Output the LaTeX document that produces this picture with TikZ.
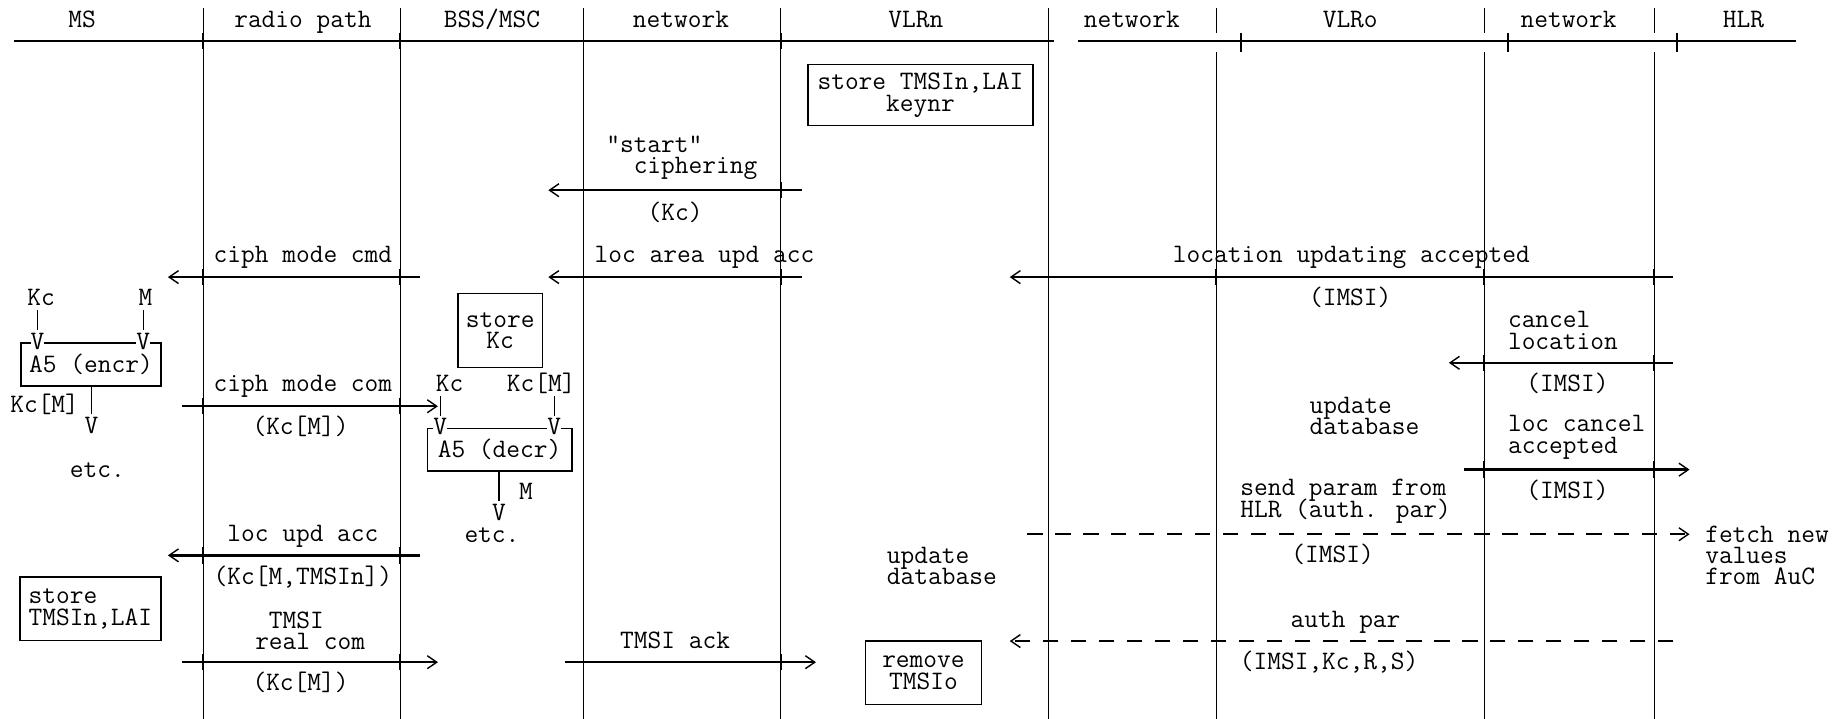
\documentclass[tikz,border=0pt]{standalone}
\usetikzlibrary{arrows.meta}
\setlength{\lineskiplimit}{-20pt}

\tikzset{
  txt/.style={font=\ttfamily\fontsize{11.35}{9.1}\selectfont, inner sep=0pt},
  lbl/.style={txt, text height=8pt, text depth=1.6pt},
  blk/.style={txt, align=left, anchor=west},
  box/.style={txt, draw, line width=0.7pt, align=center},
  vtip/.style={lbl, fill=white},
  life/.style={line width=0.5pt},
  tick/.style={line width=0.8pt},
  msg/.style={line width=1pt, -{Straight Barb[length=4pt,width=5.5pt,line width=0.6pt]}},
  dmsg/.style={msg, dash pattern=on 6.5pt off 5.4pt},
}

\begin{document}
\begin{tikzpicture}[x=0.5pt, y=-0.5pt]
  \useasboundingbox (0,0) rectangle (1568,612);
  % lifelines and header
  \foreach \x in {173,341,497,665,893}
    \draw[life] (\x,7) -- (\x,612);
  \foreach \x in {1036,1264,1409} {
    \draw[life] (\x,7) -- (\x,28);
    \draw[life] (\x,44) -- (\x,612);
  }
  \foreach \x in {1057,1284,1428}
    \draw[tick] (\x,28) -- (\x,44);
  \draw[line width=1pt] (12,35) -- (898,35);
  \draw[line width=1pt] (918,35) -- (1530,35);
  % crossings
  \foreach \x/\y in {173/35,341/35,497/35,665/35,893/35,
                     497/162,665/162,
                     173/236,341/236,497/236,665/236,893/236,1036/236,1264/236,1409/236,
                     1264/309,1409/309,173/346,341/346,1264/400,1409/400,
                     173/473,341/473,173/564,341/564,497/564,665/564}
    \draw[tick] (\x,{\y-7}) -- (\x,{\y+7});
  \node[lbl] (hMS) at (70,17) {MS};
  \node[lbl] (hRad) at (258,17) {radio path};
  \node[lbl] (hBss) at (419,17) {BSS/MSC};
  \node[lbl] (hNetA) at (580,17) {network};
  \node[lbl] (hVlrn) at (780,17) {VLRn};
  \node[lbl] (hNetB) at (964,17) {network};
  \node[lbl] (hVlro) at (1150,17) {VLRo};
  \node[lbl] (hNetC) at (1336,17) {network};
  \node[lbl] (hHlr) at (1485,17) {HLR};

  % VLRn
  \node[box, minimum width=96pt, minimum height=26pt] (vlrnStore) at (784,81) {store TMSIn,LAI\\keynr};
  \node[blk] (startCiph) at (516,134.5) {"start"\\\hphantom{xx}ciphering};
  \coordinate (c1a) at (683,162); \coordinate (c1b) at (467,162);
  \draw[msg] (c1a) -- (c1b);
  \node[lbl] (kcA) at (575,181) {(Kc)};

  % accept row
  \node[lbl] (cmdLbl) at (258,217) {ciph mode cmd};
  \coordinate (c2a) at (358,236); \coordinate (c2b) at (143,236);
  \draw[msg] (c2a) -- (c2b);
  \node[lbl] (lauaLbl) at (600,217) {loc area upd acc};
  \coordinate (c3a) at (683,236); \coordinate (c3b) at (467,236);
  \draw[msg] (c3a) -- (c3b);
  \node[lbl] (luaLbl) at (1151,217) {location updating accepted};
  \coordinate (c4a) at (1425,236); \coordinate (c4b) at (860,236);
  \draw[msg] (c4a) -- (c4b);
  \node[lbl] (imsiA) at (1150,254) {(IMSI)};

  % MS encryption
  \node[lbl] (kcMS) at (35,254) {Kc};
  \node[lbl] (mMS) at (124,254) {M};
  \node[box, minimum width=59.5pt, minimum height=18.5pt] (encr) at (77.5,310.5) {A5 (encr)};
  \node[vtip] (vA) at (32,291) {V};
  \node[vtip] (vB) at (122,291) {V};
  \draw[life] (vA |- kcMS.south) -- (vA.north);
  \draw[life] (vB |- mMS.south) -- (vB.north);
  \node[vtip] (vC) at (78,363) {V};
  \draw[life] (vC |- encr.south) -- (vC.north);
  \node[lbl] (kcmMS) at (38,345) {Kc[M]};
  \node[lbl] (etcMS) at (83,400) {etc.};

  % BSS decryption
  \node[box, minimum width=36pt, minimum height=31.5pt] (storeKc) at (426,281.5) {store\\Kc};
  \node[lbl] (comLbl) at (258,327) {ciph mode com};
  \coordinate (c5a) at (155,346); \coordinate (c5b) at (373,346);
  \draw[msg] (c5a) -- (c5b);
  \node[lbl] (kcmA) at (256,364) {(Kc[M])};
  \node[lbl] (kcBss) at (383,327) {Kc};
  \node[lbl] (kcmBss) at (461,327) {Kc[M]};
  \node[box, minimum width=61.5pt, minimum height=18pt] (decr) at (425.5,383) {A5 (decr)};
  \node[vtip] (vD) at (375,364) {V};
  \node[vtip] (vE) at (472,364) {V};
  \draw[life] (vD |- kcBss.south) -- (vD.north);
  \draw[life] (vE |- kcmBss.south) -- (vE.north);
  \node[vtip] (vF) at (425,437) {V};
  \draw[life] (vF |- decr.south) -- (vF.north);
  \node[lbl] (mBss) at (448,419) {M};
  \node[lbl] (etcBss) at (419,456) {etc.};

  % VLRo and HLR
  \node[blk] (cancelLbl) at (1284,281.5) {cancel\\location};
  \coordinate (c6a) at (1425,309); \coordinate (c6b) at (1234,309);
  \draw[msg] (c6a) -- (c6b);
  \node[lbl] (imsiB) at (1335,327) {(IMSI)};
  \node[blk] (updVlro) at (1115,354) {update\\database};
  \node[blk] (lcaLbl) at (1284,372.5) {loc cancel\\accepted};
  \coordinate (c7a) at (1247,400); \coordinate (c7b) at (1439,400);
  \draw[msg] (c7a) -- (c7b);
  \node[lbl] (imsiC) at (1335,418) {(IMSI)};
  \node[blk] (sendLbl) at (1056,427) {send param from\\HLR (auth. par)};
  \coordinate (c8a) at (875,455); \coordinate (c8b) at (1439,455);
  \draw[dmsg] (c8a) -- (c8b);
  \node[blk] (fetchLbl) at (1452,473) {fetch new\\values\\from AuC};
  \node[lbl] (imsiD) at (1135,473) {(IMSI)};
  \node[lbl] (authLbl) at (1146,528) {auth par};
  \coordinate (c9a) at (1425,546); \coordinate (c9b) at (860,546);
  \draw[dmsg] (c9a) -- (c9b);
  \node[lbl] (authPar) at (1132,564) {(IMSI,Kc,R,S)};

  % TMSI reallocation
  \node[lbl] (lupdLbl) at (258,455) {loc upd acc};
  \coordinate (c10a) at (358,473); \coordinate (c10b) at (143,473);
  \draw[msg] (c10a) -- (c10b);
  \node[lbl] (kcTmsi) at (258,491) {(Kc[M,TMSIn])};
  \node[box, align=left, minimum width=60pt, minimum height=27pt] (msStore) at (77,518.5) {store\\TMSIn,LAI};
  \node[blk] (realLbl) at (217,537) {\hphantom{x}TMSI\\real com};
  \coordinate (c11a) at (155,564); \coordinate (c11b) at (373,564);
  \draw[msg] (c11a) -- (c11b);
  \node[lbl] (kcmB) at (256,582) {(Kc[M])};
  \node[lbl] (ackLbl) at (575,546) {TMSI ack};
  \coordinate (c12a) at (481,564); \coordinate (c12b) at (695,564);
  \draw[msg] (c12a) -- (c12b);
  \node[blk] (updVlrn) at (755,482) {update\\database};
  \node[box, minimum width=49.5pt, minimum height=27pt] (removeBox) at (786.5,573) {remove\\TMSIo};
\end{tikzpicture}
\end{document}
